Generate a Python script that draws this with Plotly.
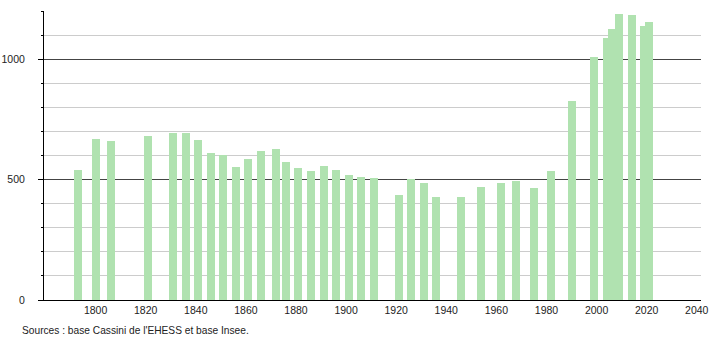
import plotly.graph_objects as go

years = [1793, 1800, 1806, 1821, 1831, 1836, 1841, 1846, 1851, 1856,
         1861, 1866, 1872, 1876, 1881, 1886, 1891, 1896, 1901, 1906,
         1911, 1921, 1926, 1931, 1936, 1946, 1954, 1962, 1968, 1975,
         1982, 1990, 1999, 2004, 2006, 2009, 2014, 2019, 2021]
population = [540, 668, 661, 681, 695, 695, 665, 611, 601, 553,
              585, 619, 627, 573, 548, 536, 557, 540, 518, 510,
              506, 435, 503, 486, 427, 427, 468, 485, 493, 464,
              535, 826, 1008, 1087, 1125, 1188, 1184, 1138, 1156]
x_ticks = [1800, 1820, 1840, 1860, 1880, 1900, 1920, 1940, 1960, 1980, 2000, 2020, 2040]
y_ticks = [0, 500, 1000]
source_text = "Sources : base Cassini de l'EHESS et base Insee."

BAR_COLOR = "rgb(176,226,176)"
FONT = "Liberation Sans, Arial, sans-serif"

L, R, T, B = 44, 9, 11, 40
PW = 710 - L - R
PH = 340 - T - B

fig = go.Figure()
fig.add_trace(go.Bar(
    x=years, y=population, width=3.2,
    marker=dict(color=BAR_COLOR, line=dict(width=0)),
    hoverinfo="x+y",
))

fig.update_layout(
    width=710, height=340,
    margin=dict(l=L, r=R, t=T, b=B, autoexpand=False),
    paper_bgcolor="white", plot_bgcolor="white",
    showlegend=False,
    font=dict(family=FONT, size=10.5, color="#222"),
    bargap=0,
)
fig.update_xaxes(
    range=[1779.4, 2041.7],
    tickmode="array", tickvals=x_ticks,
    showgrid=False, zeroline=False,
    showline=True, linecolor="black", linewidth=1,
    ticks="", automargin=False,
    tickfont=dict(size=10.5, color="#222"),
)
fig.update_yaxes(
    range=[0, 1200],
    tickmode="array", tickvals=y_ticks,
    showgrid=True, gridcolor="#444", gridwidth=1,
    zeroline=False, automargin=False,
    showline=True, linecolor="black", linewidth=1,
    ticks="outside", ticklen=5, tickcolor="black",
    ticklabelstandoff=11,
    tickfont=dict(size=10.5, color="#222"),
    minor=dict(dtick=100, tick0=0, showgrid=True, gridcolor="#cccccc",
               gridwidth=1, ticks="outside", ticklen=2, tickcolor="black"),
    layer="below traces",
)
fig.add_annotation(
    text=source_text, xref="paper", yref="paper",
    x=(20 - L) / PW, y=-(330 - (T + PH)) / PH, xanchor="left", yanchor="middle",
    showarrow=False, font=dict(size=10.2, color="#222", family=FONT),
)

fig.write_html("out.html")
